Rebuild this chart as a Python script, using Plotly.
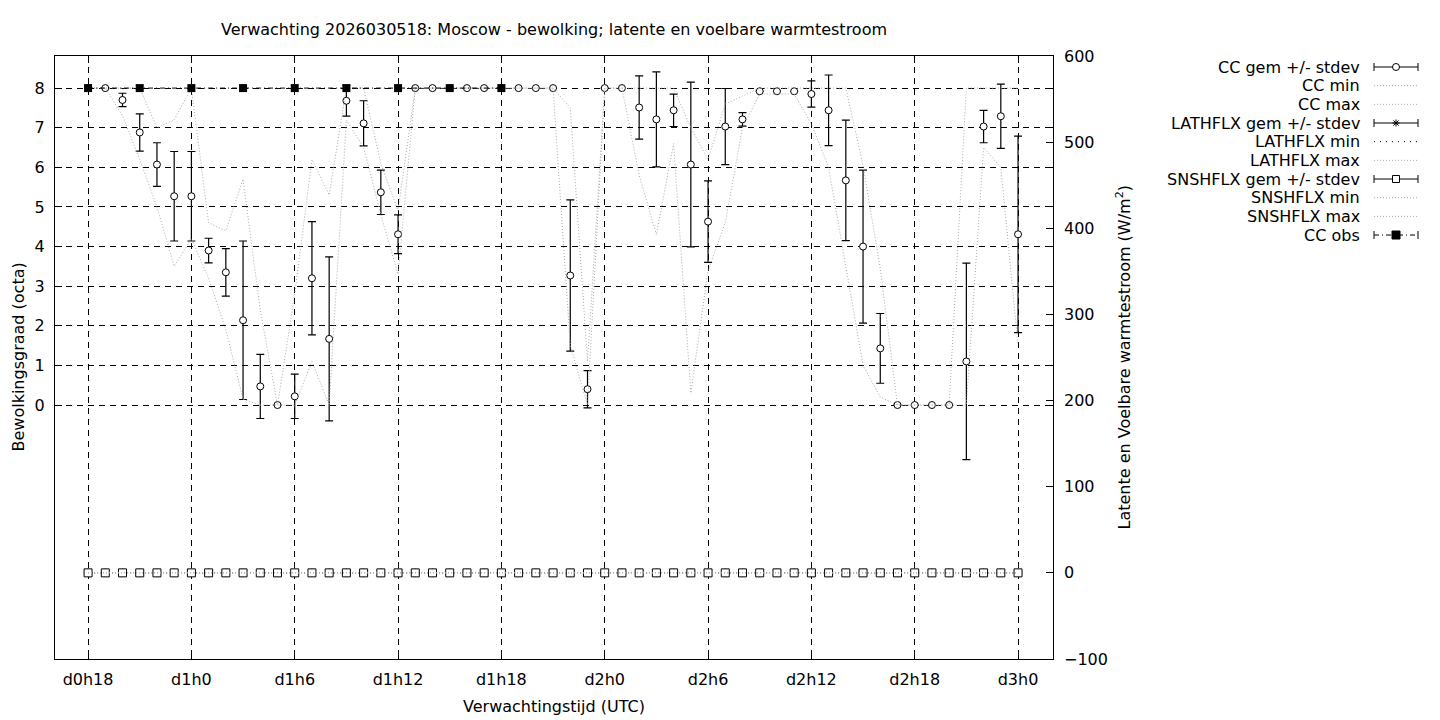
import plotly.graph_objects as go

# forecast hours since d0h0 (hourly, d0h18 .. d3h0)
hours = [18, 19, 20, 21, 22, 23, 24, 25, 26, 27, 28, 29, 30, 31, 32, 33, 34, 35, 36,
         37, 38, 39, 40, 41, 42, 43, 44, 45, 46, 47, 48, 49, 50, 51, 52, 53, 54, 55,
         56, 57, 58, 59, 60, 61, 62, 63, 64, 65, 66, 67, 68, 69, 70, 71, 72]

tick_hours = [18, 24, 30, 36, 42, 48, 54, 60, 66, 72]
tick_text = ["d0h18", "d1h0", "d1h6", "d1h12", "d1h18", "d2h0", "d2h6", "d2h12", "d2h18", "d3h0"]
cc_ticks = [0, 1, 2, 3, 4, 5, 6, 7, 8]
flux_ticks = [-100, 0, 100, 200, 300, 400, 500, 600]

# cloud cover (octa)
cc_mean = [8.0, 8.0, 7.70, 6.88, 6.07, 5.27, 5.27, 3.90, 3.35, 2.14, 0.47, 0.0, 0.22, 3.20, 1.67,
           7.68, 7.11, 5.37, 4.31, 8.0, 8.0, 8.0, 8.0, 8.0, 8.0, 8.0, 8.0, 8.0, 3.27, 0.40,
           8.0, 8.0, 7.51, 7.21, 7.44, 6.07, 4.63, 7.03, 7.21, 7.92, 7.92, 7.92, 7.85, 7.44,
           5.67, 4.00, 1.43, 0.0, 0.0, 0.0, 0.0, 1.10, 7.03, 7.29, 4.31]
cc_std = [0.0, 0.0, 0.17, 0.47, 0.55, 1.13, 1.13, 0.31, 0.60, 2.00, 0.81, 0.0, 0.56, 1.43, 2.07,
          0.39, 0.57, 0.56, 0.49, 0.0, 0.0, 0.0, 0.0, 0.0, 0.0, 0.0, 0.0, 0.0, 1.91, 0.47,
          0.0, 0.0, 0.80, 1.20, 0.41, 2.08, 1.03, 0.96, 0.17, 0.0, 0.0, 0.0, 0.33, 0.89,
          1.52, 1.93, 0.88, 0.0, 0.0, 0.0, 0.0, 2.48, 0.41, 0.81, 2.48]
cc_min = [8.0, 8.0, 7.3, 6.2, 5.0, 3.5, 4.2, 3.2, 1.9, 0.15, 0.0, 0.0, 0.0, 1.1, 0.0,
          7.2, 6.5, 4.8, 3.3, 8.0, 8.0, 8.0, 8.0, 8.0, 8.0, 8.0, 8.0, 8.0, 1.5, 0.0,
          8.0, 8.0, 5.8, 4.3, 6.6, 0.3, 3.4, 4.6, 7.0, 7.85, 7.85, 7.85, 7.1, 6.0,
          3.5, 1.0, 0.2, 0.0, 0.0, 0.0, 0.0, 0.0, 6.5, 6.0, 1.5]
cc_max = [8.0, 8.0, 8.0, 8.0, 7.0, 7.2, 8.0, 4.6, 4.4, 5.7, 2.4, 0.0, 2.8, 6.2, 5.3,
          8.0, 8.0, 6.1, 4.9, 8.0, 8.0, 8.0, 8.0, 8.0, 8.0, 8.0, 8.0, 8.0, 7.5, 1.1,
          8.0, 8.0, 8.0, 8.0, 8.0, 7.0, 6.2, 7.6, 7.8, 8.0, 8.0, 8.0, 8.0, 8.0,
          8.0, 6.05, 3.45, 0.0, 0.0, 0.0, 0.0, 8.0, 8.0, 8.0, 8.0]

obs_hours = [18, 21, 24, 27, 30, 33, 36, 39, 42]
cc_obs = [8, 8, 8, 8, 8, 8, 8, 8, 8]

# latent / sensible heat flux (W/m2) - all zero in this run
lathflx_mean = [0, 0, 0, 0, 0, 0, 0, 0, 0, 0, 0, 0, 0, 0, 0, 0, 0, 0, 0, 0, 0, 0, 0, 0, 0, 0, 0, 0,
                0, 0, 0, 0, 0, 0, 0, 0, 0, 0, 0, 0, 0, 0, 0, 0, 0, 0, 0, 0, 0, 0, 0, 0, 0, 0, 0]
lathflx_std = [0, 0, 0, 0, 0, 0, 0, 0, 0, 0, 0, 0, 0, 0, 0, 0, 0, 0, 0, 0, 0, 0, 0, 0, 0, 0, 0, 0,
               0, 0, 0, 0, 0, 0, 0, 0, 0, 0, 0, 0, 0, 0, 0, 0, 0, 0, 0, 0, 0, 0, 0, 0, 0, 0, 0]
lathflx_min = [0, 0, 0, 0, 0, 0, 0, 0, 0, 0, 0, 0, 0, 0, 0, 0, 0, 0, 0, 0, 0, 0, 0, 0, 0, 0, 0, 0,
               0, 0, 0, 0, 0, 0, 0, 0, 0, 0, 0, 0, 0, 0, 0, 0, 0, 0, 0, 0, 0, 0, 0, 0, 0, 0, 0]
lathflx_max = [0, 0, 0, 0, 0, 0, 0, 0, 0, 0, 0, 0, 0, 0, 0, 0, 0, 0, 0, 0, 0, 0, 0, 0, 0, 0, 0, 0,
               0, 0, 0, 0, 0, 0, 0, 0, 0, 0, 0, 0, 0, 0, 0, 0, 0, 0, 0, 0, 0, 0, 0, 0, 0, 0, 0]
snshflx_mean = [0, 0, 0, 0, 0, 0, 0, 0, 0, 0, 0, 0, 0, 0, 0, 0, 0, 0, 0, 0, 0, 0, 0, 0, 0, 0, 0, 0,
                0, 0, 0, 0, 0, 0, 0, 0, 0, 0, 0, 0, 0, 0, 0, 0, 0, 0, 0, 0, 0, 0, 0, 0, 0, 0, 0]
snshflx_std = [0, 0, 0, 0, 0, 0, 0, 0, 0, 0, 0, 0, 0, 0, 0, 0, 0, 0, 0, 0, 0, 0, 0, 0, 0, 0, 0, 0,
               0, 0, 0, 0, 0, 0, 0, 0, 0, 0, 0, 0, 0, 0, 0, 0, 0, 0, 0, 0, 0, 0, 0, 0, 0, 0, 0]
snshflx_min = [0, 0, 0, 0, 0, 0, 0, 0, 0, 0, 0, 0, 0, 0, 0, 0, 0, 0, 0, 0, 0, 0, 0, 0, 0, 0, 0, 0,
               0, 0, 0, 0, 0, 0, 0, 0, 0, 0, 0, 0, 0, 0, 0, 0, 0, 0, 0, 0, 0, 0, 0, 0, 0, 0, 0]
snshflx_max = [0, 0, 0, 0, 0, 0, 0, 0, 0, 0, 0, 0, 0, 0, 0, 0, 0, 0, 0, 0, 0, 0, 0, 0, 0, 0, 0, 0,
               0, 0, 0, 0, 0, 0, 0, 0, 0, 0, 0, 0, 0, 0, 0, 0, 0, 0, 0, 0, 0, 0, 0, 0, 0, 0, 0]

legend_labels = ["CC gem +/- stdev", "CC min", "CC max", "LATHFLX gem +/- stdev", "LATHFLX min",
                 "LATHFLX max", "SNSHFLX gem +/- stdev", "SNSHFLX min", "SNSHFLX max", "CC obs"]

FONT = "DejaVu Sans"
FS = 16
GRAY = "rgb(170,170,170)"
GRAY_DOT = "1px,2px"

# the page body has an 8px margin, so the figure is drawn 8px smaller and all
# positions below are given in window pixels
OFF = 8
W, H = 1440, 720
PL, PR, PT, PB = 55, 1053, 56, 659   # plot box in window pixels


def px(x):
    return (x - PL) / (PR - PL)


def py(y):
    return (PB - y) / (PB - PT)


def errbar(arr):
    return dict(type="data", array=arr, visible=True, color="black", thickness=1.2, width=4)


fig = go.Figure()

# cloud cover
fig.add_trace(go.Scatter(x=hours, y=cc_mean, mode="markers", name="CC gem +/- stdev",
                         error_y=errbar(cc_std),
                         marker=dict(symbol="circle", size=7, color="white",
                                     line=dict(color="black", width=1))))
fig.add_trace(go.Scatter(x=hours, y=cc_min, mode="lines", name="CC min",
                         line=dict(color=GRAY, width=1, dash=GRAY_DOT)))
fig.add_trace(go.Scatter(x=hours, y=cc_max, mode="lines", name="CC max",
                         line=dict(color=GRAY, width=1, dash=GRAY_DOT)))

# heat fluxes on the right axis
fig.add_trace(go.Scatter(x=hours, y=lathflx_mean, mode="markers", yaxis="y2",
                         name="LATHFLX gem +/- stdev", error_y=errbar(lathflx_std),
                         marker=dict(symbol="asterisk-open", size=7, color="black",
                                     line=dict(color="black", width=1))))
fig.add_trace(go.Scatter(x=hours, y=lathflx_min, mode="lines", yaxis="y2", name="LATHFLX min",
                         line=dict(color="black", width=1, dash="1px,5px")))
fig.add_trace(go.Scatter(x=hours, y=lathflx_max, mode="lines", yaxis="y2", name="LATHFLX max",
                         line=dict(color=GRAY, width=1, dash=GRAY_DOT)))
fig.add_trace(go.Scatter(x=hours, y=snshflx_mean, mode="markers", yaxis="y2",
                         name="SNSHFLX gem +/- stdev", error_y=errbar(snshflx_std),
                         marker=dict(symbol="square", size=8, color="white",
                                     line=dict(color="black", width=1))))
fig.add_trace(go.Scatter(x=hours, y=snshflx_min, mode="lines", yaxis="y2", name="SNSHFLX min",
                         line=dict(color=GRAY, width=1, dash=GRAY_DOT)))
fig.add_trace(go.Scatter(x=hours, y=snshflx_max, mode="lines", yaxis="y2", name="SNSHFLX max",
                         line=dict(color=GRAY, width=1, dash=GRAY_DOT)))

# observed cloud cover
fig.add_trace(go.Scatter(x=obs_hours, y=cc_obs, mode="lines+markers", name="CC obs",
                         line=dict(color="black", width=1, dash="5px,3px,1px,3px"),
                         marker=dict(symbol="square", size=8, color="black")))

tickfont = dict(family=FONT, size=FS, color="black")
fig.update_layout(
    width=W - OFF, height=H - OFF,
    margin=dict(l=PL - OFF, r=W - PR, t=PT - OFF, b=H - PB),
    paper_bgcolor="white", plot_bgcolor="white",
    showlegend=False,
    font=dict(family=FONT, size=FS, color="black"),
    xaxis=dict(range=[16.08, 74.03], tickmode="array", tickvals=tick_hours, ticktext=tick_text,
               ticks="inside", ticklen=7, tickcolor="black", showline=True, linecolor="black",
               linewidth=1, mirror="ticks", showgrid=True, gridcolor="black", gridwidth=1,
               griddash="6px,5px", zeroline=False, tickfont=tickfont, ticklabelstandoff=6),
    yaxis=dict(range=[-6.41, 8.81], tickmode="array", tickvals=cc_ticks,
               ticks="inside", ticklen=7, tickcolor="black", showline=True, linecolor="black",
               linewidth=1, mirror="ticks", showgrid=True, gridcolor="black", gridwidth=1,
               griddash="6px,5px", zeroline=False, tickfont=tickfont, ticklabelstandoff=6),
    yaxis2=dict(range=[-100, 600], tickmode="array", tickvals=flux_ticks, overlaying="y",
                side="right", ticks="inside", ticklen=7, tickcolor="black", showline=False,
                showgrid=False, zeroline=False, tickfont=tickfont, ticklabelstandoff=10),
)

annotations = [
    dict(text="Verwachting 2026030518: Moscow - bewolking; latente en voelbare warmtestroom",
         x=px((PL + PR) / 2), y=py(29)),
    dict(text="Verwachtingstijd (UTC)", x=px((PL + PR) / 2), y=py(706)),
    dict(text="Bewolkingsgraad (octa)", x=px(18), y=py((PT + PB) / 2), textangle=-90),
    dict(text="Latente en Voelbare warmtestroom (W/m<sup>2</sup>)", x=px(1124),
         y=py((PT + PB) / 2), textangle=-90),
]
for a in annotations:
    a.update(xref="paper", yref="paper", xanchor="center", yanchor="middle", showarrow=False,
             font=dict(family=FONT, size=FS, color="black"))
    fig.add_annotation(**a)

# hand-drawn key (text on the left, sample on the right, as in the original)
LX0, LX1, LTX = 1374, 1418, 1362
LY0, LDY = 67, 18.67
shapes = []


def seg(x0, y0, x1, y1, color="black", dash="solid"):
    shapes.append(dict(type="line", xref="paper", yref="paper", x0=px(x0), y0=py(y0),
                       x1=px(x1), y1=py(y1), line=dict(color=color, width=1, dash=dash)))


for i, label in enumerate(legend_labels):
    y = LY0 + i * LDY
    fig.add_annotation(text=label, xref="paper", yref="paper", x=px(LTX), y=py(y),
                       xanchor="right", yanchor="middle", showarrow=False,
                       font=dict(family=FONT, size=FS, color="black"))
    cx = (LX0 + LX1) / 2
    if "stdev" in label or label == "CC obs":
        dash = "5px,3px,1px,3px" if label == "CC obs" else "solid"
        seg(LX0, y, LX1, y, dash=dash)
        seg(LX0, y - 4, LX0, y + 4)
        seg(LX1, y - 4, LX1, y + 4)
        r = 3.5
        if label.startswith("CC gem"):
            shapes.append(dict(type="circle", xref="paper", yref="paper", x0=px(cx - r),
                               x1=px(cx + r), y0=py(y + r), y1=py(y - r), fillcolor="white",
                               line=dict(color="black", width=1)))
        elif label.startswith("LATHFLX"):
            seg(cx - r, y, cx + r, y)
            seg(cx, y - r, cx, y + r)
            seg(cx - 2.6, y - 2.6, cx + 2.6, y + 2.6)
            seg(cx - 2.6, y + 2.6, cx + 2.6, y - 2.6)
        elif label.startswith("SNSHFLX"):
            shapes.append(dict(type="rect", xref="paper", yref="paper", x0=px(cx - r),
                               x1=px(cx + r), y0=py(y + r), y1=py(y - r), fillcolor="white",
                               line=dict(color="black", width=1)))
        else:
            shapes.append(dict(type="rect", xref="paper", yref="paper", x0=px(cx - 4),
                               x1=px(cx + 4), y0=py(y + 4), y1=py(y - 4), fillcolor="black",
                               line=dict(color="black", width=1)))
    elif label == "LATHFLX min":
        seg(LX0, y, LX1, y, dash="1px,5px")
    else:
        seg(LX0, y, LX1, y, color=GRAY, dash=GRAY_DOT)

fig.update_layout(shapes=shapes)

fig.write_html("out.html")
